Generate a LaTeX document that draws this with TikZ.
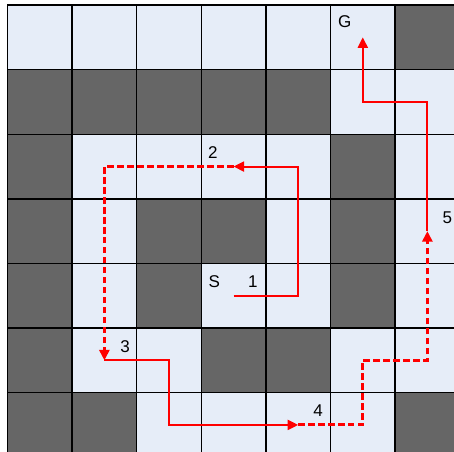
\documentclass[tikz,border=0pt]{standalone}
\usepackage{fontspec}
\setsansfont{Liberation Sans}
\usetikzlibrary{arrows.meta}
\definecolor{cellfree}{RGB}{230,237,248}
\definecolor{cellwall}{RGB}{102,102,102}
\definecolor{movered}{RGB}{255,0,0}
\tikzset{
    gridline/.style={draw=black, line width=0.6pt},
    movetip/.style={-{Triangle[length=4.6pt, width=4.4pt]}},
    solidmove/.style={draw=movered, line width=0.85pt, movetip},
    dashmove/.style={draw=movered, line width=1.3pt, dash pattern=on 2.8pt off 1.6pt, movetip},
    celllabel/.style={inner sep=0pt, font=\sffamily\fontsize{7.5}{9}\selectfont}
}

\begin{document}
\begin{tikzpicture}

    % ===== Frame (grid runs past the right and bottom edges) =====
    \useasboundingbox (-0.116, 0.078) rectangle (6.912, -6.915);
    \clip (-0.116, 0.078) rectangle (6.912, -6.915);

    % ===== Cells =====
    \fill[cellfree] (0, 0) rectangle (7, -7);
    \foreach \r/\walls in {0/{6}, 1/{0,1,2,3,4}, 2/{0,5}, 3/{0,2,3,5}, 4/{0,2,5}, 5/{0,3,4}, 6/{0,1,6}} {
        \foreach \c in \walls {
            \fill[cellwall] (\c, -\r) rectangle ++(1, -1);
        }
    }
    \draw[gridline] (0, 0) grid (7, -7);

    % cell centres
    \foreach \c in {0,...,6} {
        \foreach \r in {0,...,6} {
            \coordinate (cell-\c-\r) at (\c+0.5, -\r-0.5);
        }
    }

    % ===== Moves =====
    % S -> 2
    \draw[solidmove] (cell-3-4) -| (cell-4-2) -- (cell-3-2);
    % 2 -> 3
    \draw[dashmove] (cell-3-2) -| (cell-1-5);
    % 3 -> 4
    \draw[solidmove] (cell-1-5) -| (cell-2-6) -- (cell-4-6);
    % 4 -> 5
    \draw[dashmove] (cell-4-6) -| (cell-5-5) -| (cell-6-3);
    % 5 -> G
    \draw[solidmove] (cell-6-3) |- (cell-5-1) -- (cell-5-0);

    % ===== Labels =====
    \node[celllabel] (goal) at (5.22, -0.26) {G};
    \node[celllabel] (start) at (3.2, -4.28) {S};
    \node[celllabel] (step1) at (3.8, -4.28) {1};
    \node[celllabel] (step2) at (3.18, -2.28) {2};
    \node[celllabel] (step3) at (1.82, -5.29) {3};
    \node[celllabel] (step4) at (4.81, -6.28) {4};
    \node[celllabel] (step5) at (6.81, -3.29) {5};

\end{tikzpicture}
\end{document}
